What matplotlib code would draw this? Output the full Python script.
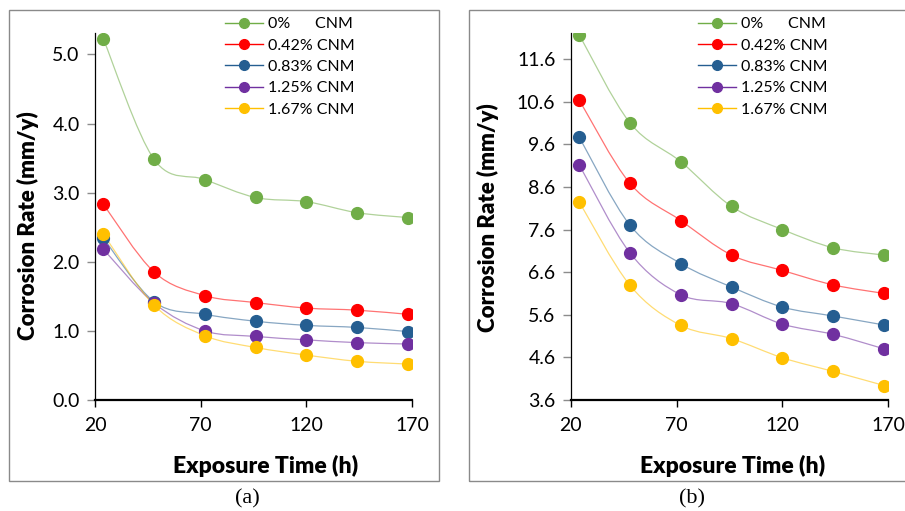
import matplotlib.pyplot as plt
import numpy as np
from matplotlib.path import Path
from matplotlib.patches import PathPatch, Rectangle
from matplotlib.lines import Line2D

# exposure time (h)
hours = [24, 48, 72, 96, 120, 144, 168]

labels = ['0%      CNM', '0.42% CNM', '0.83% CNM', '1.25% CNM', '1.67% CNM']
colors = ['#70ad47', '#ff0000', '#255e91', '#7030a0', '#ffc000']

# panel (a)
a_0 = [5.22, 3.48, 3.19, 2.93, 2.87, 2.71, 2.64]
a_042 = [2.83, 1.85, 1.51, 1.41, 1.33, 1.30, 1.24]
a_083 = [2.34, 1.42, 1.24, 1.14, 1.08, 1.05, 0.99]
a_125 = [2.18, 1.40, 1.00, 0.92, 0.87, 0.83, 0.81]
a_167 = [2.40, 1.37, 0.93, 0.76, 0.65, 0.56, 0.52]

# panel (b)
b_0 = [12.17, 10.10, 9.19, 8.14, 7.60, 7.17, 7.00]
b_042 = [10.64, 8.68, 7.81, 7.00, 6.64, 6.30, 6.10]
b_083 = [9.77, 7.70, 6.80, 6.25, 5.78, 5.57, 5.36]
b_125 = [9.12, 7.05, 6.07, 5.86, 5.38, 5.14, 4.80]
b_167 = [8.25, 6.29, 5.35, 5.04, 4.59, 4.27, 3.94]

plt.rcParams['font.family'] = ['Lato', 'DejaVu Sans']


def smooth_path(x, y):
    # excel style smoothed line: bezier through the points
    p = np.column_stack([x, y]).astype(float)
    ext = np.vstack([p[0], p, p[-1]])
    verts = [p[0]]
    codes = [Path.MOVETO]
    for i in range(len(p) - 1):
        p0, p1, p2, p3 = ext[i], ext[i + 1], ext[i + 2], ext[i + 3]
        verts += [p1 + (p2 - p0) / 6, p2 - (p3 - p1) / 6, p2]
        codes += [Path.CURVE4] * 3
    return Path(verts, codes)


def panel(ax, series, ylim, yticks, xlab_x, ylab_x, ylab_y, leg_anchor):
    for vals, c in zip(series, colors):
        ax.add_patch(PathPatch(smooth_path(hours, vals), fill=False,
                               edgecolor=c, alpha=0.55, lw=0.9, zorder=2))
        ax.plot(hours, vals, 'o', color=c, ms=8.5, zorder=3)
    ax.set_xlim(20, 170)
    ax.set_ylim(*ylim)
    ax.set_xticks([20, 70, 120, 170])
    ax.set_yticks(yticks)
    ax.set_yticklabels(['%.1f' % v for v in yticks])
    for s in ['top', 'right']:
        ax.spines[s].set_visible(False)
    ax.spines['bottom'].set_linewidth(1.6)
    ax.spines['left'].set_linewidth(0.9)
    ax.tick_params(axis='x', direction='out', length=5, width=1, pad=7,
                   labelsize=14, colors='black')
    ax.tick_params(axis='y', direction='out', length=6, width=1, pad=5,
                   labelsize=14, color='#8c8c8c', labelcolor='black')
    ax.set_xlabel('Exposure Time (h)', fontsize=16.5, fontweight='heavy')
    ax.set_ylabel('Corrosion Rate (mm/y)', fontsize=16, fontweight='heavy')
    ax.xaxis.set_label_coords(xlab_x, -0.150)
    ax.yaxis.set_label_coords(ylab_x, ylab_y)
    handles = [Line2D([], [], color=c, lw=1.0, marker='o', ms=7,
                      markerfacecolor=c, markeredgecolor=c)
               for c in colors]
    ax.legend(handles, labels, loc='upper left', frameon=False,
              bbox_to_anchor=leg_anchor, bbox_transform=fig.transFigure,
              fontsize=11.5, handlelength=2.4, handletextpad=0.3,
              labelspacing=0.45, borderaxespad=0, borderpad=0)


fig = plt.figure(figsize=(9.05, 5.11), dpi=100)
W, H = 905, 511

# panel frames
fig.patches.append(Rectangle((9 / W, (H - 481) / H), 430 / W, 471 / H,
                             transform=fig.transFigure, fill=False,
                             edgecolor='#8a8a8a', lw=1))
fig.patches.append(Rectangle((469 / W, (H - 481) / H), 440 / W, 471 / H,
                             transform=fig.transFigure, fill=False,
                             edgecolor='#8a8a8a', lw=1))

axa = fig.add_axes([95 / W, (H - 400) / H, 317 / W, 367 / H])
axb = fig.add_axes([570.7 / W, (H - 400) / H, 317.6 / W, 367 / H])

panel(axa, [a_0, a_042, a_083, a_125, a_167], (0, 5.31),
      [0.0, 1.0, 2.0, 3.0, 4.0, 5.0], 0.538, -0.177, 0.474,
      (225 / W, 1 - 17 / H))
panel(axb, [b_0, b_042, b_083, b_125, b_167], (3.6, 12.21),
      [3.6, 4.6, 5.6, 6.6, 7.6, 8.6, 9.6, 10.6, 11.6], 0.511, -0.226, 0.497,
      (698 / W, 1 - 17 / H))

fig.text(247 / W, 1 - 499 / H, '(a)', ha='center', va='center',
         fontsize=16, family='Liberation Serif')
fig.text(692 / W, 1 - 499 / H, '(b)', ha='center', va='center',
         fontsize=16, family='Liberation Serif')

fig.savefig('out.png', dpi=100)
